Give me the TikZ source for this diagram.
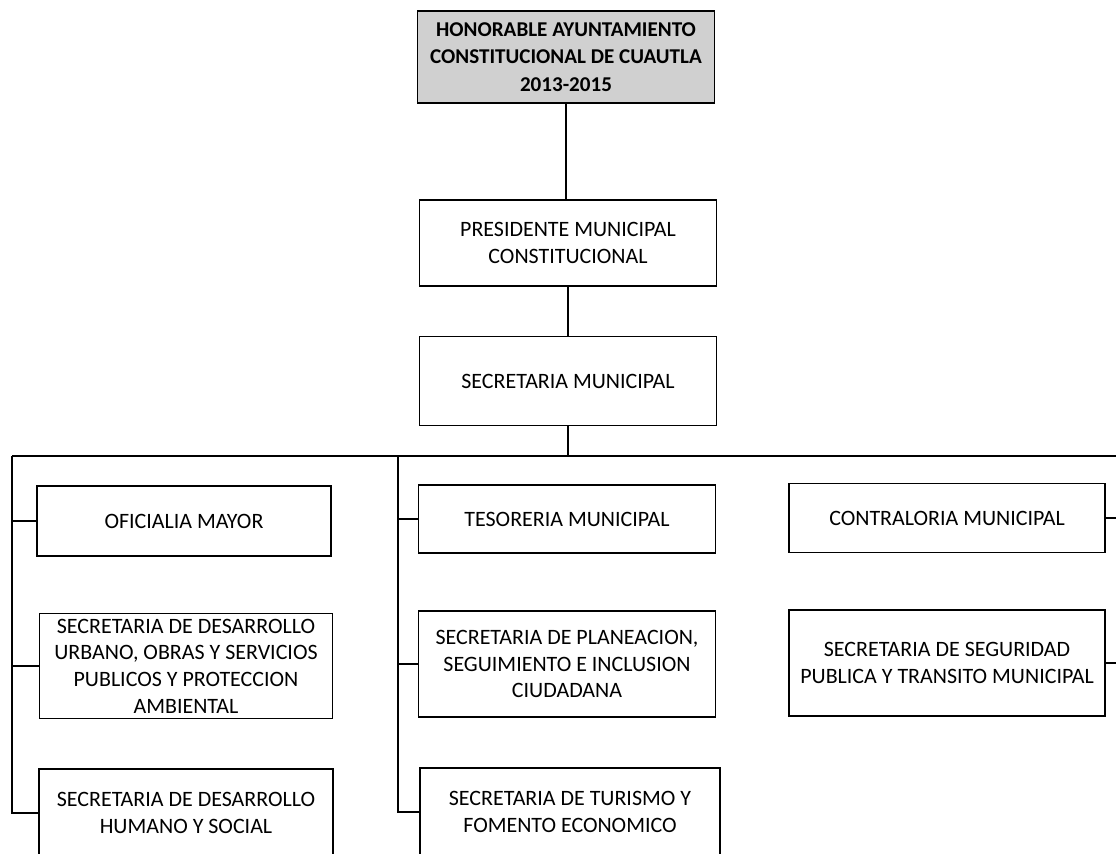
\documentclass[tikz,border=0pt]{standalone}
\usepackage{fontspec}
\setmainfont{Carlito}

\definecolor{headgray}{RGB}{208,208,208}
\tikzset{unit_box/.style={inner sep=0pt, outer sep=0pt, rectangle, draw=black, line width=0.8pt, fill=white, align=center, minimum width=5.94cm, font=\fontsize{12.5}{15.2}\selectfont}}
\tikzset{head_box/.style={unit_box, fill=headgray, font=\fontsize{12}{15.6}\selectfont\bfseries}}
\tikzset{link_line/.style={color=black, line width=1.1pt}}

\begin{document}
\begin{tikzpicture}[x=0.02cm, y=-0.02cm]
    \useasboundingbox[fill=white] (0,0) rectangle (1116,853);
    % top levels
    \node[head_box, minimum height=1.84cm] (ayunt) at (566,57) {HONORABLE AYUNTAMIENTO\\CONSTITUCIONAL DE CUAUTLA\\2013-2015};
    \node[unit_box, minimum height=1.72cm] (pres) at (568,243) {PRESIDENTE MUNICIPAL\\CONSTITUCIONAL};
    \node[unit_box, minimum height=1.78cm] (secm) at (568,381) {SECRETARIA MUNICIPAL};
    % left column
    \node[unit_box, minimum width=5.88cm, minimum height=1.4cm] (ofic) at (184,521) {OFICIALIA MAYOR};
    \node[unit_box, minimum width=5.86cm, minimum height=2.1cm] (durb) at (186,666) {SECRETARIA DE DESARROLLO\\URBANO, OBRAS Y SERVICIOS\\PUBLICOS Y PROTECCION\\AMBIENTAL};
    \node[unit_box, minimum width=5.88cm, minimum height=1.76cm] (dhum) at (186,813) {SECRETARIA DE DESARROLLO\\HUMANO Y SOCIAL};
    % middle column
    \node[unit_box, minimum height=1.36cm] (teso) at (567,519) {TESORERIA MUNICIPAL};
    \node[unit_box, minimum height=2.12cm] (plan) at (567,664) {SECRETARIA DE PLANEACION,\\SEGUIMIENTO E INCLUSION\\CIUDADANA};
    \node[unit_box, minimum width=6cm, minimum height=1.76cm] (turi) at (570,812) {SECRETARIA DE TURISMO Y\\FOMENTO ECONOMICO};
    % right column
    \node[unit_box, minimum width=6.32cm, minimum height=1.38cm] (contr) at (947,518) {CONTRALORIA MUNICIPAL};
    \node[unit_box, minimum width=6.32cm, minimum height=2.12cm] (segu) at (947,663) {SECRETARIA DE SEGURIDAD\\PUBLICA Y TRANSITO MUNICIPAL};

    \draw \foreach \n/\x in {L/12,M/398,R/1116}{(\x,456) coordinate(bus\n)};
    \draw[link_line] (ayunt.south) -- (ayunt.south |- pres.north);
    \draw[link_line] (pres.south) -- (pres.south |- secm.north);
    \draw[link_line] (secm.south) -- (secm.south |- busL);
    \draw[link_line] (busL) -- (busR);
    \draw[link_line] (busL) |- (dhum.west);
    \draw[link_line] (busL |- ofic.west) -- (ofic.west);
    \draw[link_line] (busL |- durb.west) -- (durb.west);
    \draw[link_line] (busM) |- (turi.west);
    \draw[link_line] (busM |- teso.west) -- (teso.west);
    \draw[link_line] (busM |- plan.west) -- (plan.west);
    \draw[link_line] (contr.east) -- (contr.east -| busR);
    \draw[link_line] (segu.east) -- (segu.east -| busR);
  \end{tikzpicture}
\end{document}
